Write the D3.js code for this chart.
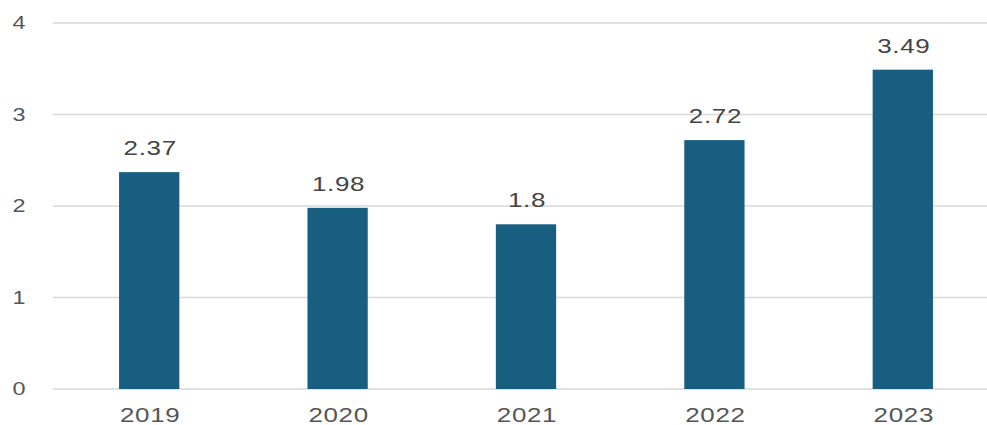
<!DOCTYPE html>
<html>
<head>
<meta charset="utf-8">
<script src="https://cdn.jsdelivr.net/npm/d3@7"></script>
<style>
  body { margin: 0; background: #fff; }
  svg { display: block; font-family: "Liberation Sans", Arial, sans-serif; }
</style>
</head>
<body>
<svg width="987" height="425"></svg>
<script>
var years = ["2019", "2020", "2021", "2022", "2023"];
var values = [2.37, 1.98, 1.8, 2.72, 3.49];
var yTicks = [0, 1, 2, 3, 4];

var svg = d3.select("svg");

// the source text is drawn a bit wide, so stretch it sideways
var stretch = 1.3;

var x = d3.scaleBand()
    .domain(years)
    .range([55, 997])
    .paddingInner(0.68)
    .paddingOuter(0.34);

var y = d3.scaleLinear()
    .domain([0, 4])
    .range([389, 23]);

// gridlines
svg.append("g")
    .selectAll("line")
    .data(yTicks)
    .enter().append("line")
    .attr("x1", 53)
    .attr("x2", 987)
    .attr("y1", function(d) { return y(d); })
    .attr("y2", function(d) { return y(d); })
    .style("stroke", "#d9d9d9")
    .style("stroke-width", 1.5);

// y labels
svg.append("g")
    .selectAll("text")
    .data(yTicks)
    .enter().append("text")
    .attr("transform", function(d) { return "translate(19," + y(d) + ") scale(" + stretch + ",1)"; })
    .attr("dy", "0.36em")
    .attr("text-anchor", "middle")
    .style("font-size", "18px")
    .style("fill", "#555")
    .text(function(d) { return d; });

// bars
svg.append("g")
    .selectAll("rect")
    .data(values)
    .enter().append("rect")
    .attr("x", function(d, i) { return x(years[i]); })
    .attr("width", x.bandwidth())
    .attr("y", function(d) { return y(d); })
    .attr("height", function(d) { return y(0) - y(d); })
    .style("fill", "#175e80");

// value labels
svg.append("g")
    .selectAll("text")
    .data(values)
    .enter().append("text")
    .attr("transform", function(d, i) {
        return "translate(" + (x(years[i]) + x.bandwidth() / 2 + 1) + "," + (y(d) - 17) + ") scale(" + stretch + ",1)";
    })
    .attr("text-anchor", "middle")
    .style("font-size", "20px")
    .style("letter-spacing", "0.5px")
    .style("fill", "#444")
    .text(function(d) { return d; });

// x labels
svg.append("g")
    .selectAll("text")
    .data(years)
    .enter().append("text")
    .attr("transform", function(d) {
        return "translate(" + (x(d) + x.bandwidth() / 2 + 1) + ",422) scale(" + stretch + ",1)";
    })
    .attr("text-anchor", "middle")
    .style("font-size", "20px")
    .style("letter-spacing", "0.5px")
    .style("fill", "#555")
    .text(function(d) { return d; });
</script>
</body>
</html>
